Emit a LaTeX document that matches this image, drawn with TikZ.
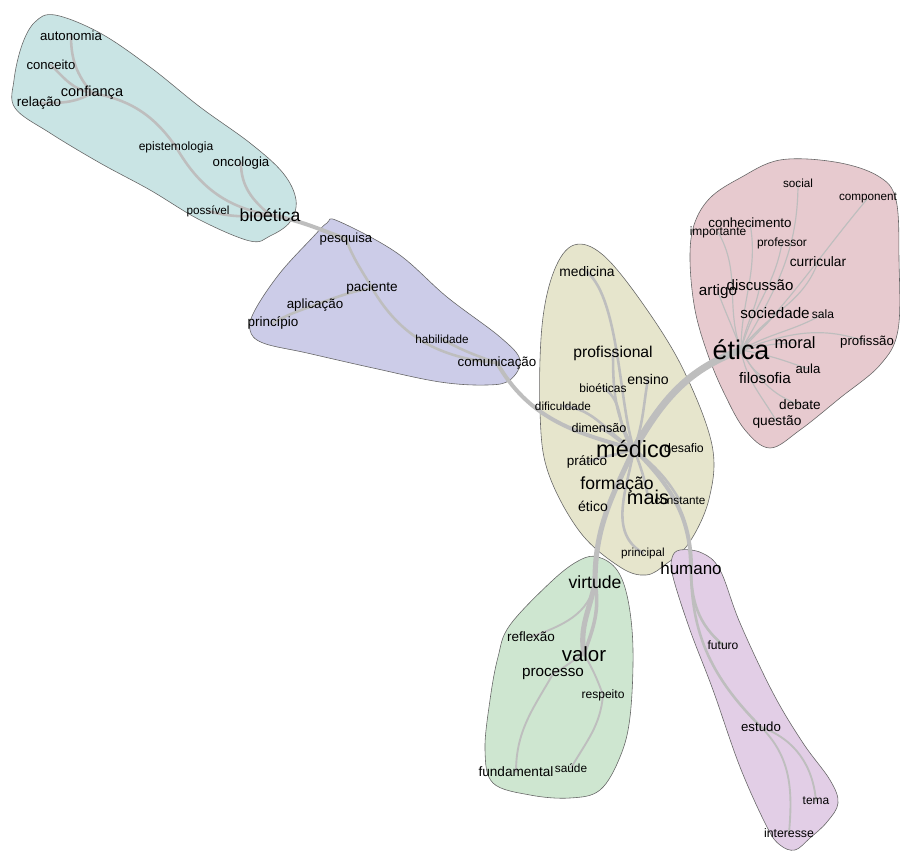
\documentclass[tikz,border=0pt]{standalone}
\usepackage{fontspec}
\setmainfont{Liberation Sans}
\definecolor{cyanbl}{RGB}{201,228,228}
\definecolor{purbl}{RGB}{204,204,232}
\definecolor{olibl}{RGB}{230,229,204}
\definecolor{pinbl}{RGB}{231,202,207}
\definecolor{grnbl}{RGB}{206,230,208}
\definecolor{mauvbl}{RGB}{226,206,230}
\definecolor{lkgray}{RGB}{190,190,190}
\pgfdeclarelayer{bg}
\pgfdeclarelayer{mid}
\pgfsetlayers{bg,mid,main}
\begin{document}
\begin{tikzpicture}[x=0.03cm,y=0.03cm,
w/.style={inner sep=0.5pt,text=black,font=\fontsize{#1}{#1}\selectfont},
blob/.style={draw=black!60,line width=0.5pt,fill=#1},
lk/.style={draw=lkgray,line width=#1,line cap=round},
lk/.default=2.2pt]
\useasboundingbox (0,0) rectangle (900,-851);

\node[w=11.3] (autonomia) at (71,-36) {autonomia};
\node[w=11.2] (conceito) at (51,-65) {conceito};
\node[w=12.4] (confianca) at (92,-93) {confiança};
\node[w=11.5] (relacao) at (39,-103) {relação};
\node[w=10.3] (epistemologia) at (176,-147) {epistemologia};
\node[w=11.3] (oncologia) at (241,-163) {oncologia};
\node[w=10] (possivel) at (208,-211) {possível};
\node[w=15] (bioetica) at (270,-215) {bioética};

\node[w=11.2] (pesquisa) at (346,-239) {pesquisa};
\node[w=11.6] (paciente) at (372,-288) {paciente};
\node[w=11.4] (aplicacao) at (315,-305) {aplicação};
\node[w=11.5] (principio) at (273,-323) {princípio};
\node[w=10] (habilidade) at (442,-339) {habilidade};
\node[w=11.4] (comunicacao) at (497,-363) {comunicação};

\node[w=11.8] (medicina) at (587,-272) {medicina};
\node[w=13.4] (profissional) at (613,-353) {profissional};
\node[w=12] (ensino) at (648,-379) {ensino};
\node[w=10.2] (bioeticas) at (603,-388) {bioéticas};
\node[w=10] (dificuldade) at (563,-406) {dificuldade};
\node[w=10.8] (dimensao) at (599,-428) {dimensão};
\node[w=10.5] (desafio) at (684,-448) {desafio};
\node[w=20] (medico) at (634,-449) {médico};
\node[w=11.5] (pratico) at (587,-462) {prático};
\node[w=15] (formacao) at (617,-485) {formação};
\node[w=17] (mais) at (648,-497) {mais};
\node[w=10] (constante) at (680,-501) {constante};
\node[w=12] (etico) at (593,-506) {ético};
\node[w=10] (principal) at (643,-553) {principal};

\node[w=10] (social) at (798,-183) {social};
\node[w=10] (component) at (868,-198) {component};
\node[w=11.4] (conhecimento) at (750,-223) {conhecimento};
\node[w=10.2] (importante) at (718,-232) {importante};
\node[w=10.2] (professor) at (782,-243) {professor};
\node[w=11.7] (curricular) at (818,-262) {curricular};
\node[w=12.8] (discussao) at (760,-285) {discussão};
\node[w=13] (artigo) at (718,-292) {artigo};
\node[w=13] (sociedade) at (775,-313) {sociedade};
\node[w=10.3] (sala) at (823,-314) {sala};
\node[w=23] (etica) at (741,-350) {ética};
\node[w=14] (moral) at (795,-343) {moral};
\node[w=11.3] (profissao) at (867,-342) {profissão};
\node[w=11.2] (aula) at (808,-369) {aula};
\node[w=13] (filosofia) at (765,-378) {filosofia};
\node[w=11.6] (debate) at (800,-405) {debate};
\node[w=11.7] (questao) at (777,-422) {questão};

\node[w=15] (virtude) at (595,-582) {virtude};
\node[w=11.5] (reflexao) at (531,-637) {reflexão};
\node[w=17.5] (valor) at (584,-654) {valor};
\node[w=13] (processo) at (553,-674) {processo};
\node[w=10.3] (respeito) at (603,-695) {respeito};
\node[w=11.6] (fundamental) at (516,-772) {fundamental};
\node[w=10.1] (saude) at (571,-768) {saúde};

\node[w=14.5] (humano) at (691,-568) {humano};
\node[w=10.3] (futuro) at (723,-645) {futuro};
\node[w=11.3] (estudo) at (761,-727) {estudo};
\node[w=10.2] (tema) at (816,-801) {tema};
\node[w=10.5] (interesse) at (789,-833) {interesse};

\begin{pgfonlayer}{bg}
\filldraw[blob=cyanbl] plot[smooth cycle,tension=0.6] coordinates {(55,-15) (100,-33) (150,-67) (200,-107) (250,-143) (283,-173) (296,-200) (290,-222) (270,-236) (250,-241) (200,-220) (150,-190) (100,-163) (50,-133) (15,-108) (14,-80) (22,-45) (35,-22)};
\filldraw[blob=purbl] plot[smooth cycle,tension=0.6] coordinates {(338,-221) (397,-253) (447,-297) (500,-337) (520,-360) (510,-380) (487,-385) (440,-382) (373,-368) (307,-353) (263,-343) (250,-330) (255,-310) (280,-273) (313,-237) (327,-223)};
\filldraw[blob=olibl] plot[smooth cycle,tension=0.6] coordinates {(574,-245) (603,-255) (643,-304) (683,-369) (712,-445) (709,-499) (689,-543) (666,-564) (646,-575) (620,-567) (580,-532) (548,-472) (540,-412) (542,-326) (554,-271)};
\filldraw[blob=pinbl] plot[smooth cycle,tension=0.6] coordinates {(780,-160) (835,-162) (878,-176) (896,-200) (899,-260) (898,-330) (880,-365) (840,-398) (800,-430) (770,-448) (745,-430) (725,-395) (708,-355) (695,-310) (690,-260) (694,-225) (710,-198) (740,-178)};
\filldraw[blob=mauvbl] plot[smooth cycle,tension=0.6] coordinates {(680,-550) (702,-553) (720,-570) (740,-623) (773,-693) (803,-743) (830,-780) (838,-803) (827,-822) (810,-838) (795,-850) (780,-845) (767,-827) (740,-767) (713,-690) (690,-630) (673,-577) (672,-558)};
\filldraw[blob=grnbl] plot[smooth cycle,tension=0.6] coordinates {(598,-557) (617,-570) (628,-600) (633,-650) (630,-717) (620,-757) (600,-790) (570,-798) (530,-795) (493,-783) (485,-750) (490,-700) (498,-657) (510,-625) (553,-580) (580,-560)};
\end{pgfonlayer}

\begin{pgfonlayer}{mid}
\path[lk]
(autonomia.center) edge[out=-90,in=130] (confianca.center)
(conceito.center) edge[out=-45,in=170] (confianca.center)
(relacao.center) edge[out=0,in=-150] (confianca.center)
(confianca.center) edge[out=-10,in=125] (epistemologia.center)
(epistemologia.center) edge[out=-60,in=170] (bioetica.center)
(oncologia.center) edge[out=-90,in=140] (bioetica.center)
(possivel.center) edge[out=-15,in=185] (bioetica.center)
(bioetica.center) edge[out=-10,in=160,lk=3.4pt] (pesquisa.center)
(pesquisa.center) edge[out=-70,in=120] (paciente.center)
(paciente.center) edge[out=-60,in=175] (comunicacao.center)
(habilidade.center) edge[out=-30,in=160] (comunicacao.center)
(paciente.center) edge[out=190,in=20] (aplicacao.center)
(aplicacao.center) edge[out=200,in=30] (principio.center)
(comunicacao.center) edge[out=-60,in=165,lk=3.4pt] (medico.center)
(medicina.center) edge[out=-40,in=110,looseness=0.6] (medico.center)
(profissional.center) edge[out=-90,in=120] (medico.center)
(bioeticas.center) edge[out=-30,in=135] (medico.center)
(ensino.center) edge[out=-100,in=70] (medico.center)
(dificuldade.center) edge[out=-5,in=150] (medico.center)
(dimensao.center) edge[out=-20,in=160] (medico.center)
(pratico.center) edge[out=20,in=-160] (medico.center)
(formacao.center) edge[out=70,in=-110] (medico.center)
(mais.center) edge[out=100,in=-70] (medico.center)
(constante.center) edge[out=120,in=-40] (medico.center)
(principal.center) edge[out=150,in=-100] (medico.center)
(medico.center) edge[out=60,in=200,lk=6pt] (etica.center)
(medico.center) edge[out=-115,in=90,lk=4.4pt] (virtude.center)
(medico.center) edge[out=-45,in=90,lk=3.4pt] (humano.center)
(humano.center) edge[out=-90,in=140] (futuro.center)
(humano.center) edge[out=-90,in=135] (estudo.center)
(estudo.center) edge[out=-20,in=95,lk=1.6pt] (tema.center)
(estudo.center) edge[out=-45,in=85,lk=1.6pt] (interesse.center)
(virtude.center) edge[out=-100,in=100,lk=4.4pt] (valor.center)
(virtude.center) edge[out=-80,in=70,lk=3pt] (valor.center)
(reflexao.center) edge[out=20,in=-100,lk=1.6pt] (virtude.center)
(valor.center) edge[out=-150,in=30,lk=1.6pt] (processo.center)
(valor.center) edge[out=-60,in=110,lk=1.6pt] (respeito.center)
(respeito.center) edge[out=-95,in=60,lk=1.6pt] (saude.center)
(processo.center) edge[out=-120,in=90,lk=1.6pt] (fundamental.center);
\path[lk=1pt]
(etica.center) edge[out=60,in=-90] (social.center)
(etica.center) edge[out=45,in=-130] (component.center)
(etica.center) edge[out=90,in=-80] (conhecimento.center)
(etica.center) edge[out=110,in=-60] (importante.center)
(etica.center) edge[out=75,in=-100] (professor.center)
(etica.center) edge[out=55,in=-110] (curricular.center)
(etica.center) edge[out=80,in=-100] (discussao.center)
(etica.center) edge[out=110,in=-70] (artigo.center)
(etica.center) edge[out=60,in=-120] (sociedade.center)
(etica.center) edge[out=30,in=-150] (sala.center)
(etica.center) edge[out=10,in=180] (moral.center)
(etica.center) edge[out=20,in=160] (profissao.center)
(etica.center) edge[out=-10,in=160] (aula.center)
(etica.center) edge[out=-60,in=150] (filosofia.center)
(etica.center) edge[out=-60,in=160] (debate.center)
(etica.center) edge[out=-80,in=120] (questao.center);
\end{pgfonlayer}
\end{tikzpicture}
\end{document}
